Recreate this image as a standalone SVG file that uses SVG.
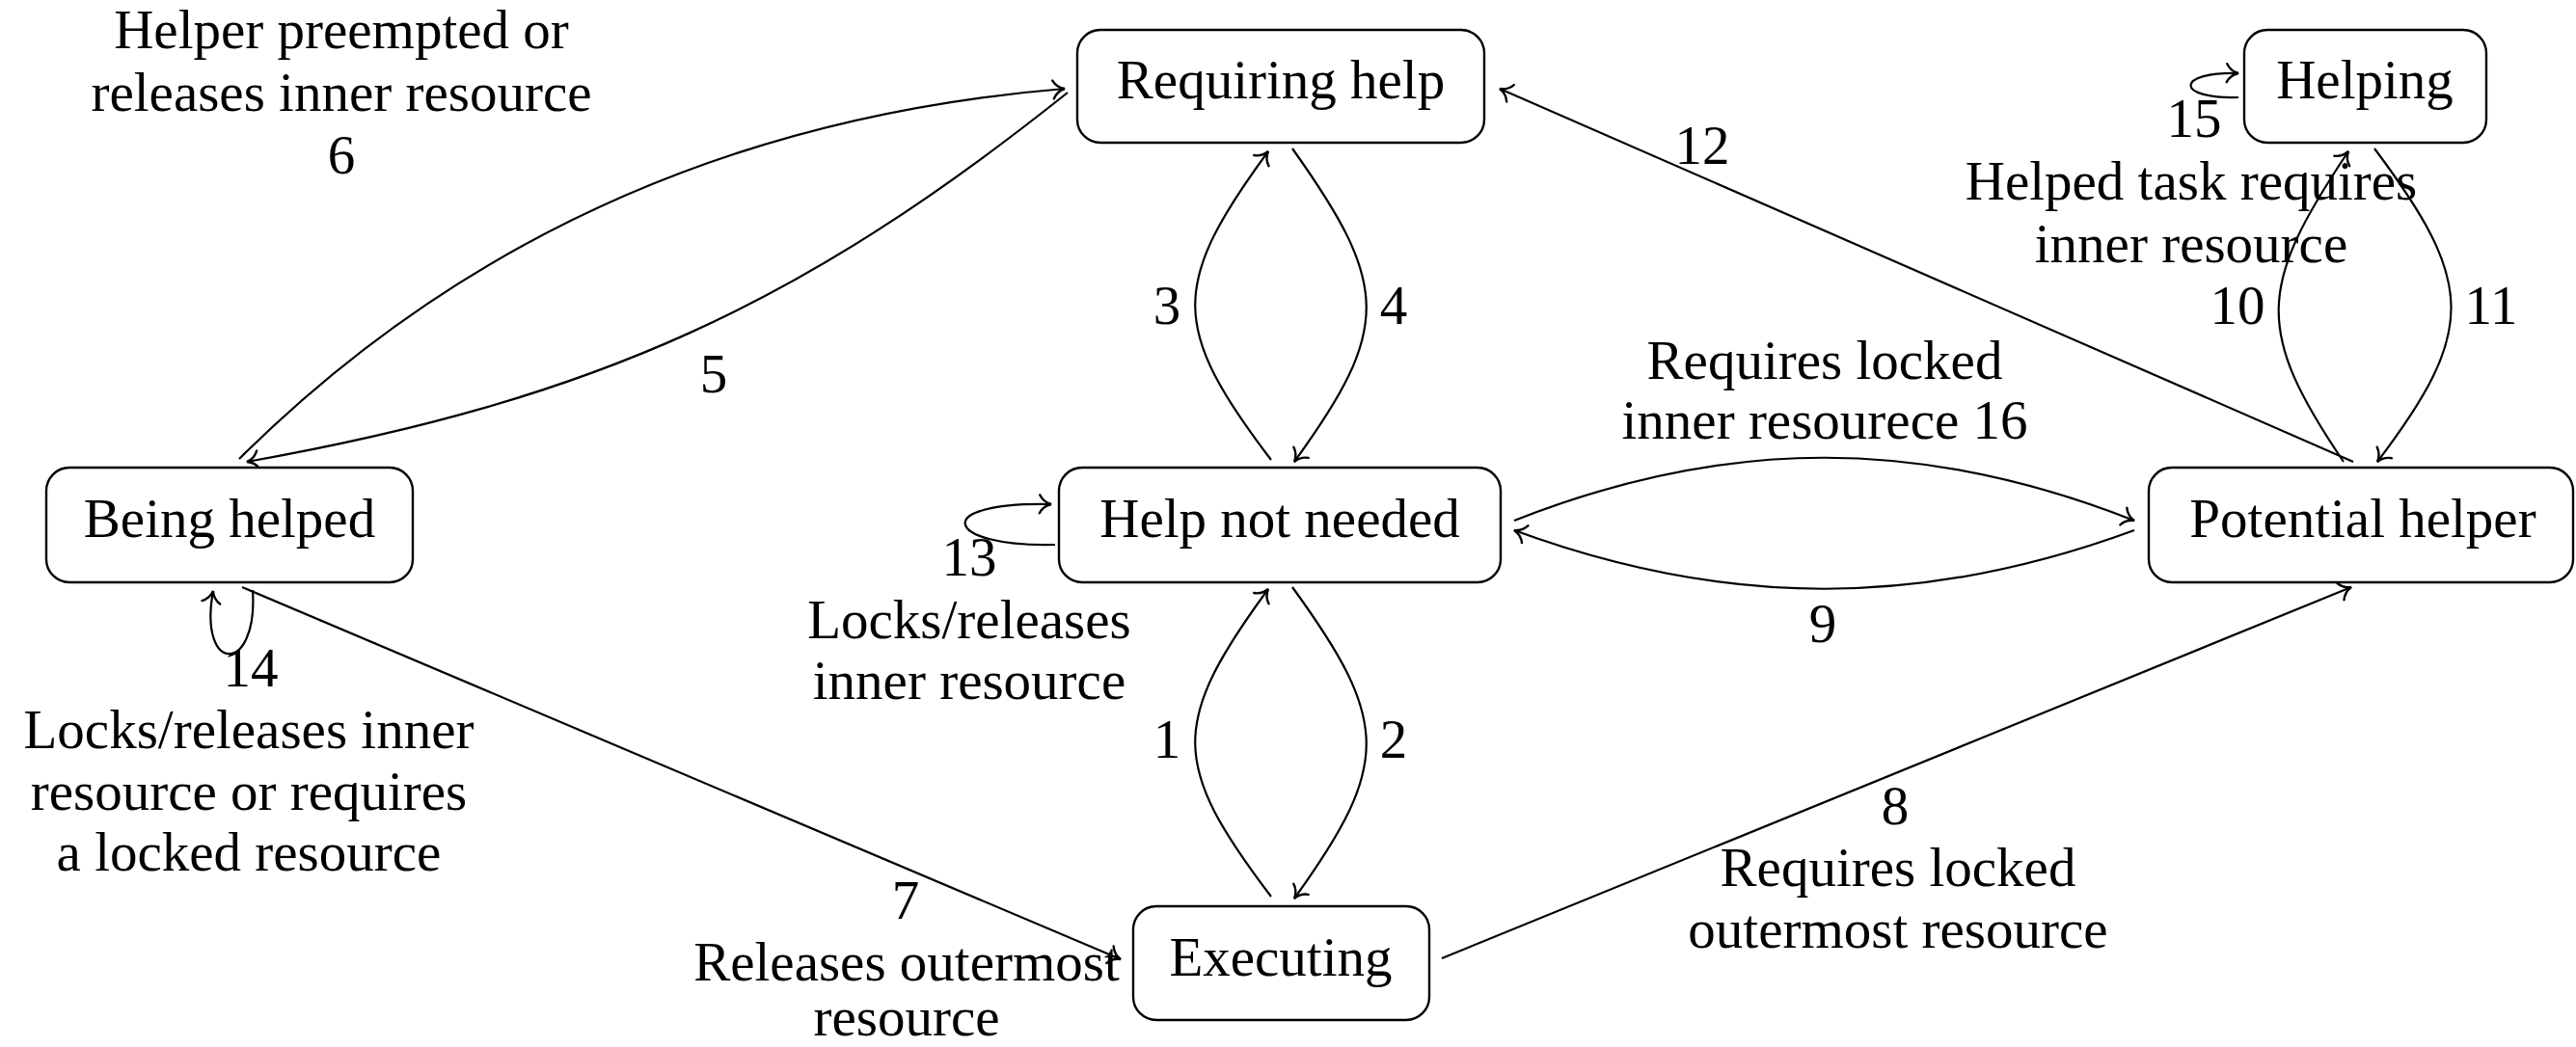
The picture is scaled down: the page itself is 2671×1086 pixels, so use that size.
<svg xmlns="http://www.w3.org/2000/svg" width="2671" height="1086" viewBox="0 0 2671 1086">
  <defs>
    <marker id="arr" markerUnits="userSpaceOnUse" viewBox="-15 -12 17 24" refX="0" refY="0" markerWidth="17" markerHeight="24" orient="auto">
      <path d="M -12 -9.5 C -9 -3.5, -4 -1, 0 0 C -4 1, -9 3.5, -12 9.5" fill="none" stroke="#000" stroke-width="2.4" stroke-linecap="round"/>
    </marker>
  </defs>
  <style>
    .node rect { fill: #fff; stroke: #000; stroke-width: 2.4; }
    text { font-family: "Liberation Serif", "Times New Roman", serif; font-size: 57px; fill: #000; text-anchor: middle; }
    .edge { fill: none; stroke: #000; stroke-width: 2.2; marker-end: url(#arr); }
  </style>
  <rect x="0" y="0" width="2671" height="1086" fill="#fff"/>

  <!-- transitions -->
  <g id="edges">
    <!-- 1 / 2 : Executing <-> Help not needed -->
    <path id="e1" class="edge" d="M 1318 930 C 1214 793, 1213 750, 1315 611"/>
    <path id="e2" class="edge" d="M 1340 609 C 1441 748, 1443 792, 1342 932"/>
    <!-- 3 / 4 : Help not needed <-> Requiring help -->
    <path id="e3" class="edge" d="M 1318 477 C 1214 340, 1213 296, 1315 157"/>
    <path id="e4" class="edge" d="M 1340 154 C 1441 296, 1443 340, 1342 479"/>
    <!-- 5 / 6 : Requiring help <-> Being helped -->
    <path id="e5" class="edge" d="M 1107 96 C 834 314, 621 414, 256 479"/>
    <path id="e6" class="edge" d="M 248 476 Q 592 134, 1104 92"/>
    <!-- 7 : Being helped -> Executing -->
    <path id="e7" class="edge" d="M 251 609 L 1162 995"/>
    <!-- 8 : Executing -> Potential helper -->
    <path id="e8" class="edge" d="M 1495 994 L 2438 609"/>
    <!-- 9 / 16 : Potential helper <-> Help not needed -->
    <path id="e9" class="edge" d="M 2213 550 C 1993 631, 1790 631, 1570 550"/>
    <path id="e16" class="edge" d="M 1570 540 C 1790 453, 1993 453, 2213 540"/>
    <!-- 10 / 11 : Potential helper <-> Helping -->
    <path id="e10" class="edge" d="M 2430 479 C 2337 342, 2342 296, 2435 157"/>
    <path id="e11" class="edge" d="M 2462 154 C 2566 293, 2569 342, 2465 479"/>
    <!-- 12 : Potential helper -> Requiring help -->
    <path id="e12" class="edge" d="M 2440 479 L 1555 92"/>
    <!-- self loops -->
    <path id="e13" class="edge" d="M 1094 565 C 978 568, 963 520, 1090 523"/>
    <path id="e14" class="edge" d="M 262 612 C 268 700, 205 700, 221 613"/>
    <path id="e15" class="edge" d="M 2321 101 C 2255 103, 2255 74, 2321 76"/>
  </g>

  <!-- states -->
  <g id="requiring-help" class="node">
    <rect x="1117" y="31" width="422" height="117" rx="24"/>
    <text x="1328" y="102">Requiring help</text>
  </g>
  <g id="helping" class="node">
    <rect x="2327" y="31" width="251" height="117" rx="24"/>
    <text x="2452" y="102">Helping</text>
  </g>
  <g id="being-helped" class="node">
    <rect x="48" y="485" width="380" height="119" rx="24"/>
    <text x="238" y="557">Being helped</text>
  </g>
  <g id="help-not-needed" class="node">
    <rect x="1098" y="485" width="458" height="119" rx="24"/>
    <text x="1327" y="557">Help not needed</text>
  </g>
  <g id="potential-helper" class="node">
    <rect x="2228" y="485" width="440" height="119" rx="24"/>
    <text x="2450" y="557">Potential helper</text>
  </g>
  <g id="executing" class="node">
    <rect x="1175" y="940" width="307" height="118" rx="24"/>
    <text x="1328" y="1012">Executing</text>
  </g>

  <!-- transition labels -->
  <g id="labels">
    <text x="1210" y="786">1</text>
    <text x="1445" y="786">2</text>
    <text x="1210" y="336">3</text>
    <text x="1445" y="336">4</text>
    <text x="740" y="407">5</text>
    <text x="354" y="50">Helper preempted or</text>
    <text x="354" y="115">releases inner resource</text>
    <text x="354" y="180">6</text>
    <text x="939" y="953">7</text>
    <text x="940" y="1017">Releases outermost</text>
    <text x="940" y="1074">resource</text>
    <text x="1965" y="855">8</text>
    <text x="1968" y="919">Requires locked</text>
    <text x="1968" y="983">outermost resource</text>
    <text x="1890" y="666">9</text>
    <text x="2320" y="336">10</text>
    <text x="2583" y="336">11</text>
    <text x="1765" y="170">12</text>
    <text x="1005" y="597">13</text>
    <text x="1005" y="662">Locks/releases</text>
    <text x="1005" y="725">inner resource</text>
    <text x="260" y="712">14</text>
    <text x="258" y="776">Locks/releases inner</text>
    <text x="258" y="840">resource or requires</text>
    <text x="258" y="903">a locked resource</text>
    <text x="2275" y="142">15</text>
    <text x="2272" y="207">Helped task requires</text>
    <text x="2272" y="272">inner resource</text>
    <text x="1892" y="393">Requires locked</text>
    <text x="1892" y="455">inner resourece 16</text>
  </g>
</svg>
